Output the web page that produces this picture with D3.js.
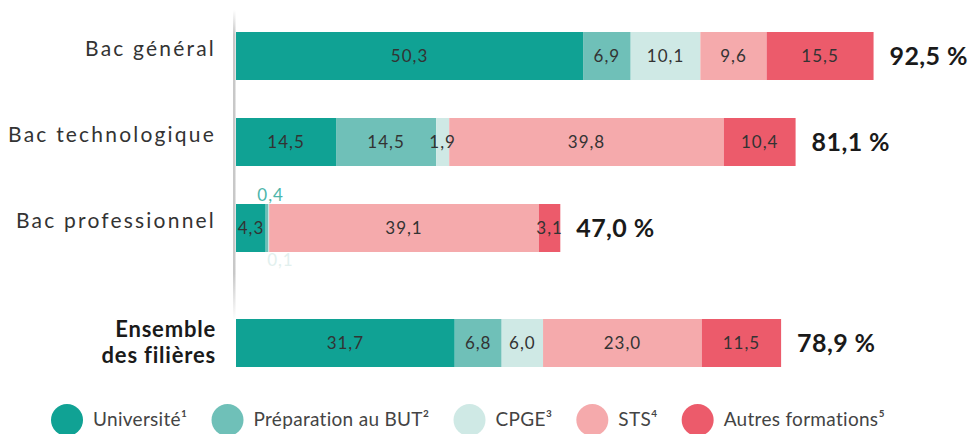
<!DOCTYPE html>
<html><head><meta charset="utf-8">
<script src="https://cdn.jsdelivr.net/npm/d3@7"></script>
<style>
body{margin:0;background:#fff;}
svg{display:block;font-family:Lato,"Open Sans",sans-serif;}
</style></head>
<body><svg id="c" width="971" height="434"></svg>
<script>
const categories = ["Bac général","Bac technologique","Bac professionnel","Ensemble des filières"];
const series = ["Université¹","Préparation au BUT²","CPGE³","STS⁴","Autres formations⁵"];
const universite = [50.3, 14.5, 4.3, 31.7];
const butPrep    = [6.9, 14.5, 0.4, 6.8];
const cpge       = [10.1, 1.9, 0.1, 6.0];
const sts        = [9.6, 39.8, 39.1, 23.0];
const autres     = [15.5, 10.4, 3.1, 11.5];
const totals     = ["92,5 %","81,1 %","47,0 %","78,9 %"];
const colors = ["#10a294","#6fc0b8","#cfe9e5","#f5aaac","#ec5b6b"];

const values = [universite, butPrep, cpge, sts, autres];
const fmt = v => d3.format(".1f")(v).replace(".", ",");

const svg = d3.select("#c");
const x = d3.scaleLinear().domain([0, 100]).range([236, 926]);
const y = d3.scaleLinear().domain([0, 1]).range([32, 118]);
const barH = 48;
const rowTop = i => y(i) + (i === 3 ? 29 : 0);

// axis line with fading ends
const defs = svg.append("defs");
const g = defs.append("linearGradient").attr("id","ax").attr("x1",0).attr("x2",0).attr("y1",0).attr("y2",1);
g.append("stop").attr("offset","0%").attr("stop-color","#c8c8c8").attr("stop-opacity",0);
g.append("stop").attr("offset","8%").attr("stop-color","#c8c8c8").attr("stop-opacity",1);
g.append("stop").attr("offset","85%").attr("stop-color","#c8c8c8").attr("stop-opacity",1);
g.append("stop").attr("offset","100%").attr("stop-color","#c8c8c8").attr("stop-opacity",0);
svg.append("rect").attr("x", x(0) - 3).attr("y", 10).attr("width", 2.5).attr("height", 310).attr("fill","url(#ax)");

// stacked data
const stacked = categories.map((c, i) => {
  let acc = 0;
  return series.map((s, k) => {
    const v = values[k][i];
    const seg = {cat: i, k, v, x0: acc, x1: acc + v};
    acc += v;
    return seg;
  });
});

const rows = svg.selectAll("g.row").data(stacked).join("g").attr("class","row");
rows.selectAll("rect").data(d => d).join("rect")
  .attr("x", d => x(d.x0))
  .attr("y", d => rowTop(d.cat))
  .attr("width", d => x(d.x1) - x(d.x0))
  .attr("height", barH)
  .attr("fill", d => colors[d.k]);

// value labels
rows.selectAll("text.val").data(d => d).join("text").attr("class","val")
  .attr("x", d => {
    if (d.cat === 2 && d.k === 0) return x(d.x0) + 15;
    if (d.cat === 2 && d.k === 1) return x(d.x0) + 5;
    if (d.cat === 2 && d.k === 2) return x(d.x0) + 12;
    return (x(d.x0) + x(d.x1)) / 2;
  })
  .attr("y", d => {
    if (d.cat === 2 && d.k === 1) return rowTop(d.cat) - 7;
    if (d.cat === 2 && d.k === 2) return rowTop(d.cat) + barH + 10;
    return rowTop(d.cat) + barH / 2 + 2;
  })
  .attr("text-anchor","middle")
  .attr("dominant-baseline","middle")
  .attr("font-size", 17)
  .attr("letter-spacing", 1)
  .attr("fill", d => {
    if (d.cat === 2 && d.k === 1) return "#4db5aa";
    if (d.cat === 2 && d.k === 2) return "#e2f0ee";
    return "#333";
  })
  .text(d => fmt(d.v));

// totals
rows.append("text")
  .attr("x", d => x(d[d.length - 1].x1) + 16)
  .attr("y", (d, i) => rowTop(i) + barH / 2 + 3)
  .attr("dominant-baseline","middle")
  .attr("font-size", 25)
  .attr("font-weight", 700)
  .attr("letter-spacing", 0.4)
  .attr("fill", "#1a1a1a")
  .text((d, i) => totals[i]);

// category labels
categories.forEach((c, i) => {
  const t = svg.append("text")
    .attr("x", 216)
    .attr("text-anchor","end")
    .attr("fill", i === 3 ? "#1a1a1a" : "#333")
    .attr("font-size", i === 3 ? 22 : 21)
    .attr("letter-spacing", i === 3 ? 0.8 : 2.2)
    .attr("font-weight", i === 3 ? 700 : 400);
  if (i === 3) {
    const words = ["Ensemble", "des filières"];
    words.forEach((w, j) => t.append("tspan").attr("x", 216)
      .attr("y", rowTop(i) + barH / 2 + (j === 0 ? -6 : 20)).text(w));
  } else {
    t.attr("y", rowTop(i) + barH / 2 - 5).attr("dominant-baseline","middle").text(c);
  }
});

// legend
let lx = 67;
const ly = 420;
series.forEach((s, k) => {
  svg.append("circle").attr("cx", lx).attr("cy", ly).attr("r", 16).attr("fill", colors[k]);
  const t = svg.append("text").attr("x", lx + 26).attr("y", ly + 1)
    .attr("dominant-baseline","middle").attr("font-size", 19).attr("fill","#444")
    .attr("letter-spacing", 0.3)
    .text(s);
  const w = t.node().getComputedTextLength();
  lx = lx + 26 + w + 40;
});
</script></body></html>
